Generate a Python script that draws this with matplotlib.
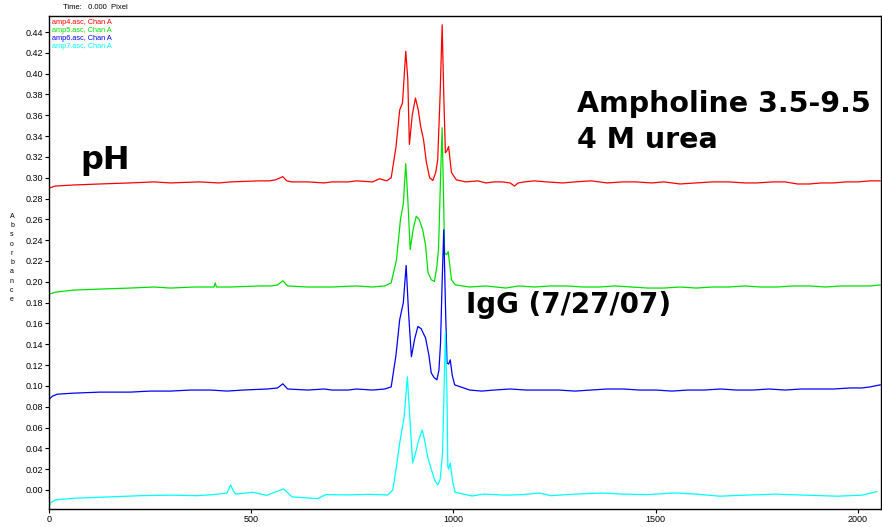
import matplotlib
matplotlib.use("Agg")
import matplotlib.pyplot as plt

plt.rcParams['font.family'] = ['Liberation Sans', 'DejaVu Sans']

# electropherogram traces, pixel position vs absorbance (stacked, 0.1 apart)
x_red = [0, 15, 60, 125, 200, 260, 300, 372, 420, 450, 520, 545, 560, 578, 588, 600, 640,
         680, 700, 740, 760, 800, 817, 835, 846, 858, 867, 874, 882, 887, 891, 898, 906,
         913, 919, 926, 933, 941, 949, 956, 961, 967, 972, 976, 980, 984, 988, 995, 1007,
         1030, 1060, 1080, 1100, 1120, 1140, 1151, 1160, 1175, 1200, 1230, 1270, 1300,
         1340, 1380, 1420, 1450, 1490, 1520, 1560, 1600, 1640, 1680, 1720, 1750, 1790,
         1820, 1850, 1880, 1910, 1940, 1970, 2000, 2030, 2055]
y_red = [0.290, 0.292, 0.293, 0.294, 0.295, 0.296, 0.295, 0.296, 0.295, 0.296, 0.297,
         0.297, 0.298, 0.301, 0.297, 0.296, 0.296, 0.295, 0.296, 0.296, 0.297, 0.296,
         0.299, 0.297, 0.300, 0.330, 0.365, 0.372, 0.4215, 0.395, 0.332, 0.360, 0.3766,
         0.365, 0.349, 0.3365, 0.315, 0.300, 0.2974, 0.305, 0.317, 0.380, 0.447, 0.380,
         0.324, 0.326, 0.330, 0.305, 0.298, 0.296, 0.297, 0.295, 0.296, 0.296, 0.295,
         0.292, 0.295, 0.296, 0.297, 0.296, 0.295, 0.296, 0.297, 0.295, 0.296, 0.296,
         0.295, 0.296, 0.294, 0.295, 0.296, 0.296, 0.295, 0.295, 0.296, 0.296, 0.294,
         0.294, 0.295, 0.295, 0.296, 0.296, 0.297, 0.297]

x_green = [0, 15, 60, 125, 200, 260, 300, 360, 408, 411, 414, 450, 520, 550, 565, 578, 590,
           640, 700, 760, 800, 830, 846, 859, 869, 876, 882, 887, 893, 900, 908, 915, 924,
           931, 937, 945, 953, 959, 963, 968, 972, 975, 978, 983, 987, 995, 1005, 1040,
           1080, 1130, 1160, 1200, 1240, 1280, 1320, 1360, 1400, 1440, 1480, 1520, 1560,
           1600, 1640, 1680, 1720, 1760, 1800, 1840, 1880, 1920, 1960, 2000, 2030, 2055]
y_green = [0.188, 0.190, 0.192, 0.193, 0.194, 0.195, 0.194, 0.195, 0.195, 0.199, 0.195,
           0.195, 0.196, 0.196, 0.197, 0.201, 0.196, 0.195, 0.195, 0.196, 0.195, 0.196,
           0.199, 0.221, 0.260, 0.275, 0.3135, 0.280, 0.231, 0.250, 0.263, 0.260, 0.250,
           0.235, 0.209, 0.202, 0.2003, 0.215, 0.231, 0.300, 0.348, 0.290, 0.228, 0.226,
           0.229, 0.202, 0.197, 0.195, 0.196, 0.194, 0.196, 0.195, 0.196, 0.196, 0.195,
           0.195, 0.196, 0.195, 0.194, 0.194, 0.195, 0.194, 0.195, 0.195, 0.196, 0.195,
           0.195, 0.196, 0.196, 0.195, 0.196, 0.196, 0.196, 0.197]

x_blue = [0, 8, 20, 60, 125, 200, 250, 300, 350, 400, 440, 480, 540, 565, 578, 590, 640,
          680, 700, 740, 760, 800, 830, 846, 858, 867, 876, 883, 889, 896, 904, 912, 920,
          931, 939, 945, 952, 959, 964, 968, 972, 976, 980, 984, 988, 992, 997, 1003, 1040,
          1070, 1100, 1140, 1180, 1220, 1260, 1300, 1340, 1380, 1420, 1460, 1500, 1540,
          1580, 1620, 1660, 1700, 1740, 1780, 1820, 1860, 1900, 1940, 1980, 2010, 2030,
          2055]
y_blue = [0.087, 0.090, 0.092, 0.093, 0.094, 0.094, 0.095, 0.095, 0.096, 0.096, 0.095,
          0.096, 0.097, 0.098, 0.102, 0.097, 0.096, 0.097, 0.096, 0.096, 0.097, 0.096,
          0.097, 0.099, 0.130, 0.1635, 0.180, 0.2157, 0.170, 0.128, 0.145, 0.157, 0.155,
          0.146, 0.130, 0.1125, 0.108, 0.1058, 0.115, 0.141, 0.200, 0.250, 0.180, 0.122,
          0.121, 0.125, 0.110, 0.101, 0.096, 0.095, 0.096, 0.097, 0.096, 0.096, 0.096,
          0.095, 0.096, 0.097, 0.097, 0.096, 0.096, 0.095, 0.096, 0.096, 0.097, 0.096,
          0.096, 0.097, 0.096, 0.097, 0.097, 0.097, 0.098, 0.098, 0.099, 0.101]

x_cyan = [0, 5, 16, 60, 128, 226, 300, 365, 406, 440, 449, 456, 462, 504, 538, 580, 601, 664,
          684, 740, 790, 838, 850, 860, 867, 878, 886, 892, 899, 906, 914, 923, 930, 936,
          945, 953, 961, 967, 973, 977, 980, 984, 986, 988, 992, 998, 1004, 1046, 1074,
          1130, 1170, 1213, 1241, 1300, 1366, 1420, 1478, 1547, 1600, 1658, 1720, 1797,
          1870, 1950, 2010, 2047]
y_cyan = [-0.0154, -0.012, -0.0096, -0.008, -0.007, -0.0055, -0.005, -0.0055, -0.0045,
          -0.003, 0.0048, -0.001, -0.004, -0.0022, -0.0052, 0.001, -0.0067, -0.0083,
          -0.0045, -0.0048, -0.0042, -0.0048, 0.000, 0.025, 0.045, 0.070, 0.1087, 0.070,
          0.026, 0.035, 0.048, 0.0577, 0.045, 0.032, 0.020, 0.010, 0.0048, 0.010, 0.0355,
          0.100, 0.152, 0.090, 0.0224, 0.020, 0.026, 0.008, -0.0022, -0.0058, -0.004,
          -0.005, -0.0045, -0.003, -0.0055, -0.004, -0.003, -0.004, -0.0045, -0.0029,
          -0.004, -0.006, -0.005, -0.004, -0.005, -0.006, -0.005, -0.0016]

trace_names = ['amp4.asc, Chan A', 'amp5.asc, Chan A', 'amp6.asc, Chan A', 'amp7.asc, Chan A']
trace_colors = ['#ff0000', '#00e000', '#0000ff', '#00ffff']
y_ticks = [0.00, 0.02, 0.04, 0.06, 0.08, 0.10, 0.12, 0.14, 0.16, 0.18, 0.20, 0.22,
           0.24, 0.26, 0.28, 0.30, 0.32, 0.34, 0.36, 0.38, 0.40, 0.42, 0.44]
x_ticks = [0, 500, 1000, 1500, 2000]

fig = plt.figure(figsize=(8.82, 5.27), dpi=100)
ax = fig.add_axes([49 / 882, 18 / 527, 832 / 882, 493 / 527])

traces = [(x_red, y_red), (x_green, y_green), (x_blue, y_blue), (x_cyan, y_cyan)]
for (xs, ys), c in zip(traces, trace_colors):
    ax.plot(xs, ys, color=c, lw=0.9)

ax.set_xlim(0, 2057)
ax.set_ylim(-0.0183, 0.4554)
ax.set_xticks(x_ticks)
ax.set_yticks(y_ticks)
ax.set_yticklabels(['%.2f' % v for v in y_ticks])
ax.tick_params(direction='out', length=3, width=0.8, labelsize=6.5, pad=1)
ax.tick_params(axis='y', right=True)
for s in ax.spines.values():
    s.set_linewidth(1.0)

# trace legend in the upper left corner
for i, (name, c) in enumerate(zip(trace_names, trace_colors)):
    fig.text(52 / 882, 1 - (22 + 8 * i) / 527, name, color=c, fontsize=5.3,
             va='center', ha='left')

fig.text(95 / 882, 1 - 7.5 / 527, 'Time:   0.000  Pixel', fontsize=5.5, ha='center',
         va='center')
fig.text(12 / 882, 1 - 258 / 527, '\n'.join('Absorbance'), fontsize=5, ha='center',
         va='center', linespacing=1.45)

# annotations
bold = dict(family='DejaVu Sans', fontweight='bold', ha='left', va='baseline')
fig.text(80 / 882, 1 - 169 / 527, 'pH', fontsize=23, **bold)
fig.text(577 / 882, 1 - 112 / 527, 'Ampholine 3.5-9.5', fontsize=20.5, **bold)
fig.text(577 / 882, 1 - 148 / 527, '4 M urea', fontsize=20.5, **bold)
fig.text(466 / 882, 1 - 313 / 527, 'IgG (7/27/07)', fontsize=20, **bold)

fig.savefig('out.png', dpi=100)
